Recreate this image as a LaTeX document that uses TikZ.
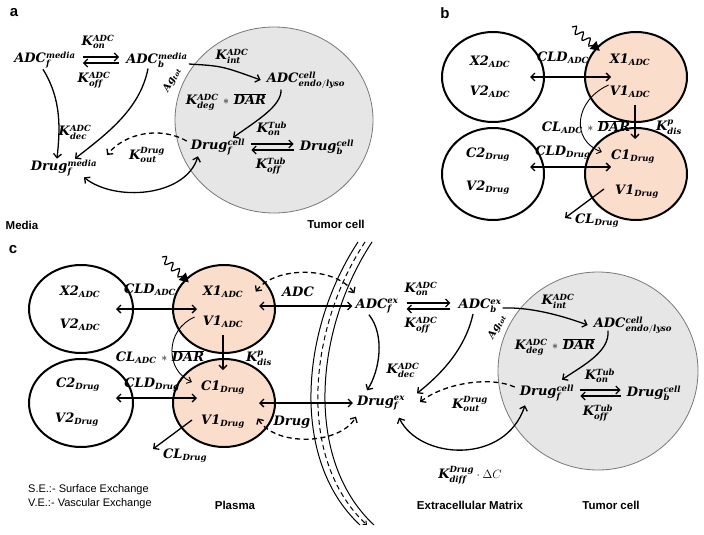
\documentclass[tikz,border=0pt]{standalone}
\usepackage{fontspec}
\setsansfont{Liberation Sans}
\newfontfamily\labfont[NFSSFamily=labf]{DejaVu Serif}
\DeclareMathAlphabet{\mathlab}{TU}{labf}{bx}{it}
\newcommand{\bm}[1]{\mathlab{#1}}
\usetikzlibrary{arrows.meta,shapes.geometric,decorations.pathmorphing,calc}
\DeclareMathSizes{13}{13}{8.5}{6}
\DeclareMathSizes{10}{10}{6.5}{5}
\definecolor{peach}{RGB}{250,221,203}
\definecolor{cellfill}{RGB}{230,230,230}
\definecolor{celldraw}{RGB}{120,120,120}
\tikzset{
  mt/.style={font=\fontsize{13}{15}\selectfont, inner sep=1pt},
  sm/.style={font=\fontsize{10}{12}\selectfont, inner sep=0pt},
  lbl/.style={font=\sffamily\bfseries\fontsize{11.5}{13}\selectfont, inner sep=1pt},
  note/.style={font=\sffamily\fontsize{11}{13}\selectfont, inner sep=0pt, anchor=west},
  panel/.style={font=\sffamily\bfseries\fontsize{15}{17}\selectfont, inner sep=0pt},
  ar/.style={line width=1.3pt, -{Straight Barb[length=4pt,width=8pt]}},
  dar/.style={line width=1.3pt, {Straight Barb[length=4pt,width=8pt]}-{Straight Barb[length=4pt,width=8pt]}},
  tar/.style={line width=0.9pt, -{Straight Barb[length=4pt,width=7pt]}},
  dsh/.style={dash pattern=on 5pt off 3.5pt},
  comp/.style={ellipse, draw, line width=2pt, minimum width=102pt, minimum height=90pt, inner sep=0pt},
  cellc/.style={ellipse, draw=celldraw, fill=cellfill, line width=0.8pt, inner sep=0pt},
  wavy/.style={line width=1.2pt, decorate, decoration={snake, amplitude=3.5pt, segment length=9pt, post length=6pt}, -{Triangle[length=9pt,width=10pt]}},
}
\begin{document}
\begin{tikzpicture}[x=1pt,y=-1pt]
\useasboundingbox (0,0) rectangle (704,535);
% ---------------- Panel a ----------------
\node[cellc, minimum width=198pt, minimum height=186pt] (aCell) at (274,120) {};
\node[panel] (aLet) at (14,13) {a};
\node[mt] (aADCf) at (45,60) {$\bm{ADC_f^{media}}$};
\node[mt] (aADCb) at (157,60) {$\bm{ADC_b^{media}}$};
\node[mt] (aKon) at (98,42) {$\bm{K_{on}^{ADC}}$};
\node[mt] (aKoff) at (94,80) {$\bm{K_{off}^{ADC}}$};
\node[mt] (aKint) at (232,56) {$\bm{K_{int}^{ADC}}$};
\node[sm, rotate=62] (aAg) at (172,80) {$\bm{Ag_{tot}}$};
\node[mt] (aEndo) at (306,80) {$\bm{ADC^{cell}_{endo/lyso}}$};
\node[mt] (aKdeg) at (226,102) {$\bm{K_{deg}^{ADC}}\,\ast\,\overline{\bm{DAR}}$};
\node[mt] (aDrugfc) at (218,147) {$\bm{Drug_f^{cell}}$};
\node[mt] (aDrugbc) at (327,147) {$\bm{Drug_b^{cell}}$};
\node[mt] (aKonT) at (272,129) {$\bm{K_{on}^{Tub}}$};
\node[mt] (aKoffT) at (271,166) {$\bm{K_{off}^{Tub}}$};
\node[mt] (aKdec) at (75,132) {$\bm{K_{dec}^{ADC}}$};
\node[mt] (aKout) at (147,155) {$\bm{K_{out}^{Drug}}$};
\node[mt] (aDrugfm) at (64,168) {$\bm{Drug_f^{media}}$};
\node[lbl] (aMedia) at (22,225) {Media};
\node[lbl] (aTumor) at (336,224) {Tumor cell};
\coordinate (aOutE) at (107,155);

\draw[ar] ([xshift=6pt,yshift=3pt]aADCf.east) -- ([xshift=-6pt,yshift=3pt]aADCb.west);
\draw[ar] ([xshift=-6pt,yshift=-3pt]aADCb.west) -- ([xshift=6pt,yshift=-3pt]aADCf.east);
\draw[ar] ([yshift=-4pt]aADCb.east) .. controls (222,66) .. ([xshift=-5pt]aEndo.west);
\draw[ar] ([xshift=-25pt]aEndo.south) .. controls (282,106) and (256,121) .. ([xshift=15pt]aDrugfc.north);
\draw[ar] ([xshift=5pt,yshift=3pt]aDrugfc.east) -- ([xshift=-5pt,yshift=3pt]aDrugbc.west);
\draw[ar] ([xshift=-5pt,yshift=-3pt]aDrugbc.west) -- ([xshift=5pt,yshift=-3pt]aDrugfc.east);
\draw[ar] ([xshift=-2pt]aADCf.south) .. controls (62,100) and (60,130) .. ([xshift=-7pt]aDrugfm.north);
\draw[ar] ([xshift=-9pt]aADCb.south) .. controls (140,110) and (105,135) .. ([xshift=11pt]aDrugfm.north);
\draw[ar,dsh] ([xshift=-3pt,yshift=6pt]aDrugfc.west) .. controls (160,126) and (125,133) .. (aOutE);
\draw[dar] ([xshift=20pt]aDrugfm.south) .. controls (115,202) and (185,197) .. ([xshift=-20pt]aDrugfc.south);

% ---------------- Panel b ----------------
\node[panel] (bLet) at (445,13) {b};
\node[comp] (bX2) at (493,77) {};
\node[comp, fill=peach] (bX1) at (636,77) {};
\node[comp, minimum height=92pt] (bC2) at (493,174) {};
\node[comp, fill=peach, minimum height=92pt] (bC1) at (636,174) {};
\node[mt] (bX2t) at (490,62) {$\bm{X2_{ADC}}$};
\node[mt] (bV2t) at (490,92) {$\bm{V2_{ADC}}$};
\node[mt] (bX1t) at (630,60) {$\bm{X1_{ADC}}$};
\node[mt] (bV1t) at (630,92) {$\bm{V1_{ADC}}$};
\node[mt] (bC2t) at (488,155) {$\bm{C2_{Drug}}$};
\node[mt] (bV2dt) at (488,188) {$\bm{V2_{Drug}}$};
\node[mt] (bC1t) at (633,157) {$\bm{C1_{Drug}}$};
\node[mt] (bV1dt) at (637,192) {$\bm{V1_{Drug}}$};
\node[mt] (bCLDa) at (563,58) {$\bm{CLD_{ADC}}$};
\node[mt] (bCLDd) at (563,153) {$\bm{CLD_{Drug}}$};
\node[mt] (bKdis) at (669,127) {$\bm{K_{dis}^{p}}$};
\node[mt] (bCLa) at (586,127) {$\bm{CL_{ADC}}\,\ast\,\overline{\bm{DAR}}$};
\node[mt] (bCLd) at (597,221) {$\bm{CL_{Drug}}$};
\coordinate (bWs) at (572,27);
\coordinate (bCLtip) at (565,218);

\draw[dar] ([xshift=-15pt]bX2.east) -- ([xshift=27pt]bX1.west);
\draw[dar] ([xshift=-15pt,yshift=7pt]bC2.east) -- ([xshift=27pt,yshift=7pt]bC1.west);
\draw[wavy] (bWs) -- ([xshift=4pt,yshift=-3pt]bX1.144);
\draw[ar] ([xshift=5pt,yshift=-6pt]bV1t.south) -- ([xshift=2pt,yshift=10pt]bC1t.north);
\draw[tar] ([yshift=7pt]bV1t.west) .. controls (575,100) and (570,140) .. ([xshift=-8pt,yshift=5pt]bC1t.west);
\draw[ar] ([xshift=-10pt,yshift=3pt]bV1dt.west) -- (bCLtip);

% ---------------- Panel c ----------------
\node[panel] (cLet) at (13,250) {c};
\node[cellc, minimum width=200pt, minimum height=198pt] (cCell) at (598,371) {};
\node[comp, minimum width=104pt, minimum height=88pt] (cX2) at (81,309) {};
\node[comp, minimum width=104pt, minimum height=88pt] (cC2) at (81,403) {};
\node[comp, fill=peach, minimum height=88pt] (cX1) at (224,309) {};
\node[comp, fill=peach, minimum height=88pt] (cC1) at (224,403) {};
\node[mt] (cX2t) at (80,292) {$\bm{X2_{ADC}}$};
\node[mt] (cV2t) at (80,325) {$\bm{V2_{ADC}}$};
\node[mt] (cC2t) at (78,385) {$\bm{C2_{Drug}}$};
\node[mt] (cV2dt) at (77,420) {$\bm{V2_{Drug}}$};
\node[mt] (cX1t) at (223,292) {$\bm{X1_{ADC}}$};
\node[mt] (cV1t) at (223,322) {$\bm{V1_{ADC}}$};
\node[mt] (cC1t) at (223,388) {$\bm{C1_{Drug}}$};
\node[mt] (cV1dt) at (223,422) {$\bm{V1_{Drug}}$};
\node[mt] (cCLDa) at (150,290) {$\bm{CLD_{ADC}}$};
\node[mt] (cCLDd) at (152,385) {$\bm{CLD_{Drug}}$};
\node[mt] (cKdis) at (259,358) {$\bm{K_{dis}^{p}}$};
\node[mt] (cCLa) at (160,357) {$\bm{CL_{ADC}}\,\ast\,\overline{\bm{DAR}}$};
\node[mt] (cCLd) at (185,456) {$\bm{CL_{Drug}}$};
\node[mt] (cADC) at (298,292) {$\bm{ADC}$};
\node[mt] (cDrug) at (292,422) {$\bm{Drug}$};
\node[mt] (cADCf) at (377,306) {$\bm{ADC_f^{ex}}$};
\node[mt] (cDrugfx) at (381,403) {$\bm{Drug_f^{ex}}$};
\node[mt] (cKon) at (421,289) {$\bm{K_{on}^{ADC}}$};
\node[mt] (cKoff) at (421,325) {$\bm{K_{off}^{ADC}}$};
\node[mt] (cADCb) at (480,306) {$\bm{ADC_b^{ex}}$};
\node[mt] (cKint) at (558,301) {$\bm{K_{int}^{ADC}}$};
\node[sm, rotate=62] (cAg) at (497,327) {$\bm{Ag_{tot}}$};
\node[mt] (cEndo) at (633,325) {$\bm{ADC^{cell}_{endo/lyso}}$};
\node[mt] (cKdeg) at (555,347) {$\bm{K_{deg}^{ADC}}\,\ast\,\overline{\bm{DAR}}$};
\node[mt] (cDrugfc) at (547,393) {$\bm{Drug_f^{cell}}$};
\node[mt] (cDrugbc) at (654,393) {$\bm{Drug_b^{cell}}$};
\node[mt] (cKonT) at (600,376) {$\bm{K_{on}^{Tub}}$};
\node[mt] (cKoffT) at (598,413) {$\bm{K_{off}^{Tub}}$};
\node[mt] (cKout) at (470,404) {$\bm{K_{out}^{Drug}}$};
\node[mt] (cKdec) at (403,370) {$\bm{K_{dec}^{ADC}}$};
\node[mt] (cKdiff) at (470,475) {$\bm{K_{diff}^{Drug}}\cdot\Delta C$};
\coordinate (cWs) at (162,257);
\coordinate (cCLtip) at (153,449);
\coordinate (cOutE) at (420,402);

% membrane
\draw[line width=1pt] (358,242) .. controls (300,330) and (290,460) .. (360,525);
\draw[line width=1pt] (372,242) .. controls (314,330) and (304,460) .. (374,525);
\draw[line width=1pt, dsh, -{Straight Barb[length=3pt,width=5pt]}] (365,242) .. controls (307,330) and (297,460) .. (367,525);

\draw[dar] ([xshift=-18pt]cX2.east) -- ([xshift=25pt]cX1.west);
\draw[dar] ([xshift=-18pt,yshift=5pt]cC2.east) -- ([xshift=25pt,yshift=5pt]cC1.west);
\draw[wavy] (cWs) -- ([xshift=4pt,yshift=-3pt]cX1.143);
\draw[ar] ([yshift=-6pt]cV1t.south) -- ([yshift=10pt]cC1t.north);
\draw[tar] ([xshift=-7pt,yshift=5pt]cV1t.west) .. controls (165,330) and (165,370) .. ([xshift=-8pt,yshift=6pt]cC1t.west);
\draw[ar] ([xshift=-8pt,yshift=2pt]cV1dt.west) -- (cCLtip);

\draw[dar] ([xshift=-17pt,yshift=3pt]cX1.east) -- ([xshift=-2pt]cADCf.west);
\draw[dar,dsh] ([xshift=-14pt,yshift=-4pt]cX1.25) .. controls (275,266) and (335,266) .. ([yshift=4pt]cADCf.north west);
\draw[dar] ([xshift=-17pt]cC1.east) -- ([xshift=-3pt]cDrugfx.west);
\draw[dar,dsh] ([xshift=-12pt,yshift=6pt]cC1.-25) .. controls (275,447) and (340,445) .. ([yshift=-5pt]cDrugfx.south west);
\draw[ar] ([xshift=-8pt]cADCf.south) .. controls (385,335) and (380,370) .. ([xshift=-14pt,yshift=4pt]cDrugfx.north);

\draw[ar] ([xshift=7pt,yshift=3pt]cADCf.east) -- ([xshift=-7pt,yshift=3pt]cADCb.west);
\draw[ar] ([xshift=-7pt,yshift=-3pt]cADCb.west) -- ([xshift=7pt,yshift=-3pt]cADCf.east);
\draw[ar] ([yshift=-2pt]cADCb.east) .. controls (530,307) and (560,315) .. ([xshift=-5pt]cEndo.west);
\draw[ar] ([xshift=-25pt,yshift=4pt]cEndo.south) .. controls (610,352) and (582,366) .. ([xshift=15pt,yshift=4pt]cDrugfc.north);
\draw[ar] ([xshift=5pt,yshift=3pt]cDrugfc.east) -- ([xshift=-5pt,yshift=3pt]cDrugbc.west);
\draw[ar] ([xshift=-5pt,yshift=-3pt]cDrugbc.west) -- ([xshift=5pt,yshift=-3pt]cDrugfc.east);
\draw[ar,dsh] ([xshift=-4pt,yshift=6pt]cDrugfc.west) .. controls (490,376) and (445,383) .. (cOutE);
\draw[ar] ([xshift=-7pt]cADCb.south) .. controls (465,350) and (440,375) .. ([xshift=11pt,yshift=1pt]cDrugfx.north east);
\draw[dar] ([xshift=18pt,yshift=-6pt]cDrugfx.south) .. controls (420,460) and (505,465) .. ([xshift=-22pt,yshift=-3pt]cDrugfc.south);

% bottom labels
\node[note] (se) at (28,490) {S.E.:- Surface Exchange};
\node[note] (ve) at (28,504) {V.E.:- Vascular Exchange};
\node[lbl] (plasma) at (235,505) {Plasma};
\node[lbl] (ecm) at (470,505) {Extracellular Matrix};
\node[lbl] (cTumor) at (611,505) {Tumor cell};
\end{tikzpicture}
\end{document}
